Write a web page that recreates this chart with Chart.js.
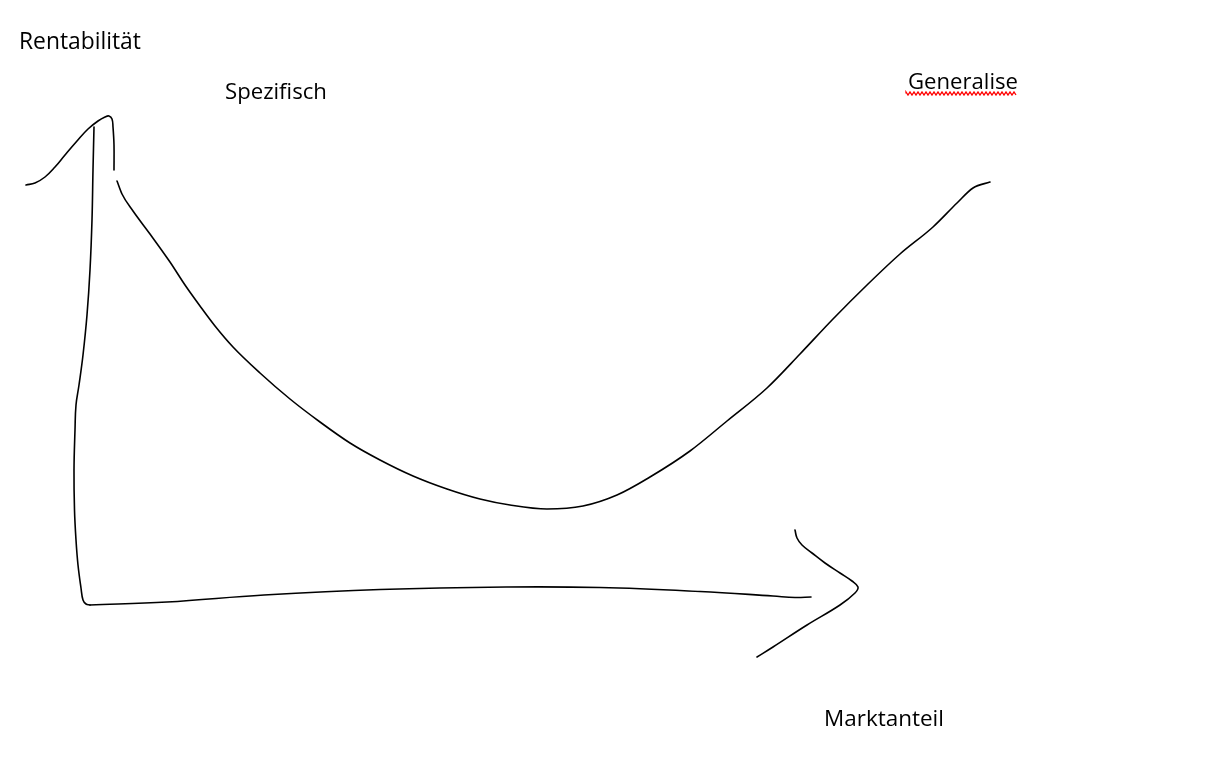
<!DOCTYPE html>
<html>
<head>
<meta charset="utf-8">
<script src="https://cdn.jsdelivr.net/npm/chart.js@4/dist/chart.umd.min.js"></script>
<style>
  html, body { margin: 0; padding: 0; background: #ffffff; }
  #wrap { width: 1209px; height: 763px; }
</style>
</head>
<body>
<div id="wrap"><canvas id="c" width="1209" height="763"></canvas></div>
<script>
// Sketch strokes (x across, y down, in sketch units)
const peakStrokeX = [26, 35, 45, 55, 65, 77, 88, 98, 105, 109, 112, 113, 114, 114];
const peakStrokeY = [185, 183, 177, 167, 155, 141, 129, 121, 117, 116, 119, 127, 145, 170];

const yAxisX = [94, 93, 92, 90, 87, 83, 79, 76, 75, 74, 74.5, 76, 78, 81, 83, 86, 90];
const yAxisY = [127, 170, 220, 270, 315, 355, 385, 405, 430, 470, 510, 540, 565, 588, 600, 604, 605];

const xAxisX = [90, 167, 264, 380, 506, 600, 700, 773, 795, 811];
const xAxisY = [605, 602, 595, 589.5, 587, 587.5, 591.5, 596, 597.5, 597];

const arrowHeadX = [795, 797, 802, 812, 825, 840, 852, 858, 855, 840, 807, 773, 757];
const arrowHeadY = [530, 538, 545, 553, 563, 573, 581, 587, 593, 605, 625, 647, 657];

const uCurveX = [117, 122, 133, 150, 170, 185, 200, 215, 233, 260, 290, 320, 350, 380, 413, 447, 480, 510, 547, 583, 617, 650, 690, 727, 767, 800, 833, 867, 900, 933, 957, 973, 990];
const uCurveY = [181, 194, 211, 234, 262, 285, 306, 326, 347, 373, 399, 422, 443, 460, 476, 489, 499, 505, 509, 506, 495, 477, 451, 421, 388, 354, 319, 285, 254, 227, 203, 188, 182];

const labelTexts = ["Rentabilität", "Spezifisch", "Generalise", "Marktanteil"];
const labelX = [19, 225, 908, 824];
const labelY = [49, 99, 89, 726];
const labelW = [122, 102, 110, 120];
const spellMarked = [false, false, true, false];

function pts(xs, ys) { return xs.map((x, i) => ({ x: x, y: ys[i] })); }

function stroke(xs, ys, monotone) {
  const ds = {
    data: pts(xs, ys),
    showLine: true,
    borderColor: '#000000',
    borderWidth: 1.6,
    pointRadius: 0,
    pointHoverRadius: 0,
    tension: 0.4,
    fill: false,
    borderCapStyle: 'round',
    borderJoinStyle: 'round'
  };
  if (monotone) ds.cubicInterpolationMode = 'monotone';
  return ds;
}

const labelPlugin = {
  id: 'sketchLabels',
  afterDatasetsDraw(chart) {
    const ctx = chart.ctx;
    const sx = chart.scales.x, sy = chart.scales.y;
    ctx.save();
    ctx.fillStyle = '#000000';
    ctx.textAlign = 'left';
    ctx.textBaseline = 'alphabetic';
    labelTexts.forEach((t, i) => {
      const px = sx.getPixelForValue(labelX[i]);
      const py = sy.getPixelForValue(labelY[i]);
      ctx.font = '20px "Open Sans", sans-serif';
      const m = ctx.measureText(t).width;
      const size = 20 * labelW[i] / m;
      ctx.font = size.toFixed(2) + 'px "Open Sans", sans-serif';
      ctx.fillText(t, px, py);
      if (spellMarked[i]) {
        const w = ctx.measureText(t).width;
        ctx.beginPath();
        ctx.strokeStyle = '#ff0000';
        ctx.lineWidth = 1.3;
        const base = py + 4.5;
        let up = true;
        ctx.moveTo(px - 2, base);
        for (let x = px - 2; x <= px + w; x += 2) {
          ctx.lineTo(x, up ? base - 1.5 : base + 1.5);
          up = !up;
        }
        ctx.stroke();
      }
    });
    ctx.restore();
  }
};

new Chart(document.getElementById('c'), {
  type: 'scatter',
  data: {
    datasets: [
      stroke(peakStrokeX, peakStrokeY, false),
      stroke(yAxisX, yAxisY, false),
      stroke(xAxisX, xAxisY, false),
      stroke(arrowHeadX, arrowHeadY, false),
      stroke(uCurveX, uCurveY, true)
    ]
  },
  options: {
    responsive: false,
    animation: false,
    layout: { padding: 0 },
    plugins: { legend: { display: false }, tooltip: { enabled: false }, title: { display: false } },
    scales: {
      x: { type: 'linear', min: 0, max: 1209, display: false },
      y: { type: 'linear', min: 0, max: 763, reverse: true, display: false }
    }
  },
  plugins: [labelPlugin]
});
</script>
</body>
</html>
